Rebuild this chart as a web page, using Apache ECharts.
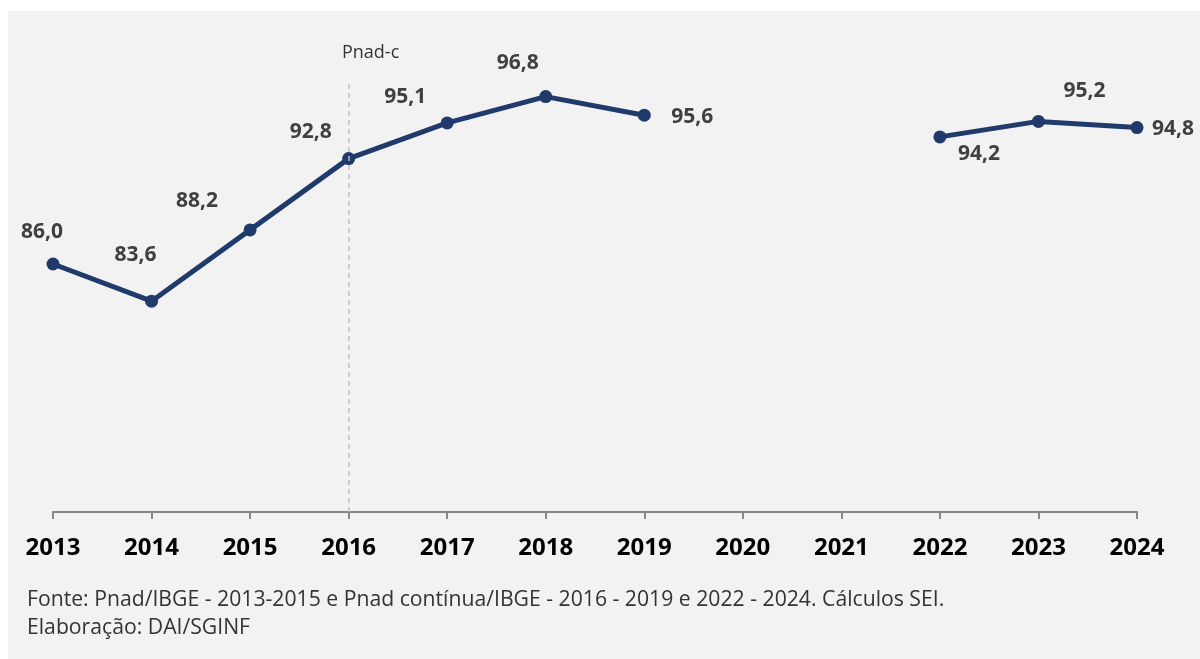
<!DOCTYPE html>
<html>
<head>
<meta charset="utf-8">
<script src="https://cdn.jsdelivr.net/npm/echarts@6/dist/echarts.min.js"></script>
<style>
  html, body { margin: 0; padding: 0; background: #ffffff; }
  #chart { width: 1200px; height: 659px; }
</style>
</head>
<body>
<div id="chart"></div>
<script>
// Years on the horizontal axis
const years = ['2013', '2014', '2015', '2016', '2017', '2018', '2019', '2020', '2021', '2022', '2023', '2024'];
// Rate per year (no survey data for 2020 and 2021)
const values = [86.0, 83.6, 88.2, 92.8, 95.1, 96.8, 95.6, null, null, 94.2, 95.2, 94.8];
// Where each value label sits relative to its point
const labelOffsets = [[-11, -32], [-16, -46], [-53, -29], [-38, -27], [-42, -26], [-28, -34], [48, 2], null, null, [39, 17], [46, -30], [36, 1]];
// Survey change marker
const breakYear = '2016';
const breakText = 'Pnad-c';
const footerLines = [
  'Fonte: Pnad/IBGE - 2013-2015 e Pnad contínua/IBGE - 2016 - 2019 e 2022 - 2024. Cálculos SEI.',
  'Elaboração: DAI/SGINF'
];

const navy = '#1f3a6b';
const fmt = v => v.toFixed(1).replace('.', ',');

const seriesData = values.map((v, i) => {
  if (v === null) return null;
  return {
    value: v,
    label: { offset: labelOffsets[i] }
  };
});

const chart = echarts.init(document.getElementById('chart'), null, { renderer: 'canvas' });

chart.setOption({
  animation: false,
  backgroundColor: 'transparent',
  graphic: [
    {
      type: 'rect', z: -10, silent: true,
      shape: { x: 8, y: 11, width: 1192, height: 648 },
      style: { fill: '#f2f2f2' }
    },
    {
      type: 'text', left: 27, top: 589, silent: true,
      style: { text: footerLines[0], fill: '#333333', font: '21.2px "Open Sans"' }
    },
    {
      type: 'text', left: 27, top: 617, silent: true,
      style: { text: footerLines[1], fill: '#333333', font: '21.2px "Open Sans"' }
    }
  ],
  grid: { left: 53, right: 63, top: 47, bottom: 147, containLabel: false },
  xAxis: {
    type: 'category',
    data: years,
    boundaryGap: false,
    axisLine: { lineStyle: { color: '#868686', width: 2 } },
    axisTick: { show: true, length: 7, lineStyle: { color: '#868686', width: 2 } },
    axisLabel: {
      margin: 24,
      color: '#000000',
      fontFamily: 'Open Sans',
      fontWeight: 'bold',
      fontSize: 24,
      interval: 0
    },
    splitLine: { show: false }
  },
  yAxis: {
    type: 'value',
    min: 70,
    max: 100,
    show: false,
    splitLine: { show: false }
  },
  series: [
    {
      type: 'line',
      data: seriesData,
      connectNulls: false,
      symbol: 'circle',
      symbolSize: 13,
      lineStyle: { color: navy, width: 5 },
      itemStyle: { color: navy },
      label: {
        show: true,
        position: 'inside',
        formatter: p => fmt(p.value),
        color: '#404040',
        fontFamily: 'Open Sans',
        fontWeight: 'bold',
        fontSize: 21
      },
      markLine: {
        silent: true,
        symbol: 'none',
        lineStyle: { color: '#bfbfbf', type: [5, 4], width: 1.5 },
        label: { show: false },
        data: [[{ coord: [breakYear, 70] }, { coord: [breakYear, 97.7] }]]
      },
      markPoint: {
        silent: true,
        symbol: 'circle',
        symbolSize: 0,
        data: [{ coord: [breakYear, 97.7] }],
        label: {
          show: true,
          position: 'inside',
          offset: [22, -30],
          formatter: breakText,
          color: '#333333',
          fontFamily: 'Open Sans',
          fontSize: 18
        }
      }
    }
  ]
});
</script>
</body>
</html>
